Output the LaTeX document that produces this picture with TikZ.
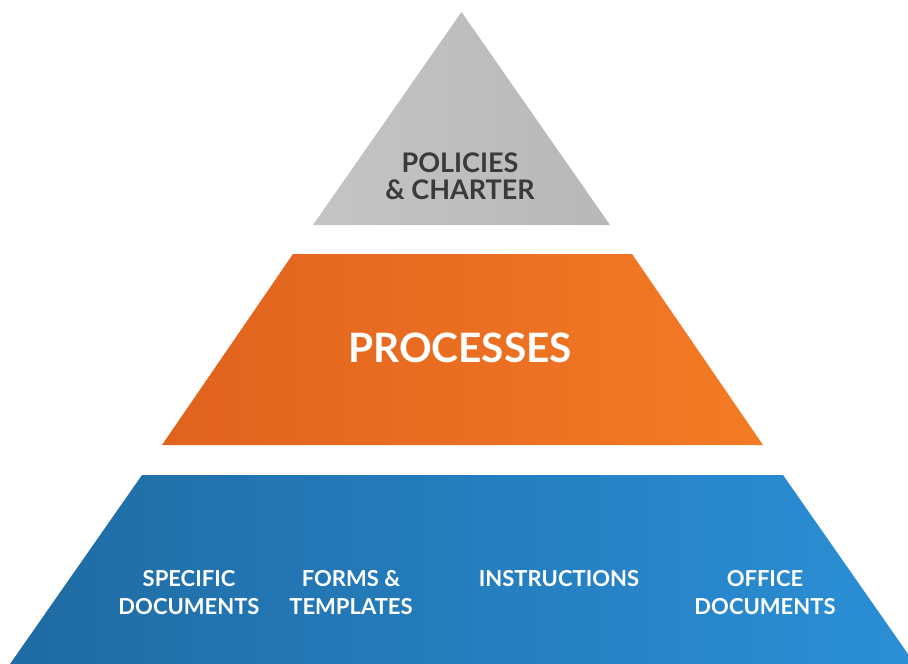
\documentclass[tikz,border=0pt]{standalone}
\usepackage{fontspec}
\setmainfont{Lato}
\definecolor{greyA}{HTML}{C4C4C4}
\definecolor{greyB}{HTML}{B8B8B8}
\definecolor{orA}{HTML}{E0621E}
\definecolor{orB}{HTML}{F47B25}
\definecolor{blA}{HTML}{1F6BA3}
\definecolor{blB}{HTML}{2B8FD6}
\definecolor{txtgrey}{HTML}{3A3A3A}
\tikzset{
  tiertext/.style={font=\bfseries, align=center, inner sep=0pt},
  lowtext/.style={tiertext, font=\bfseries\fontsize{22}{28}\selectfont, text=white, anchor=base},
}
\begin{document}
\begin{tikzpicture}[x=1pt,y=-1pt]
\useasboundingbox (0,0) rectangle (908,664);
\fill[white] (0,0) rectangle (908,664);
% top triangle
\shade[left color=greyA, right color=greyB] (461.5,12) -- (610,225) -- (313,225) -- cycle;
% middle trapezoid
\shade[left color=orA, right color=orB] (293,254) -- (632,254) -- (763,445) -- (162,445) -- cycle;
% bottom trapezoid
\begin{scope}
\clip (0,0) rectangle (908,664);
\shade[left color=blA, right color=blB] (142,475) -- (783,475) -- (915,664) -- (10,664) -- cycle;
\end{scope}
% texts
\node[tiertext, text=txtgrey, font=\bfseries\fontsize{27}{27}\selectfont, anchor=base] (pol) at (460,199) {POLICIES\\\& CHARTER};
\node[tiertext, text=white, font=\bfseries\fontsize{40.5}{42}\selectfont, anchor=base] (proc) at (460,362) {PROCESSES};
\node[lowtext] (spec) at (189,614) {SPECIFIC\\DOCUMENTS};
\node[lowtext] (forms) at (351,614) {FORMS \&\\TEMPLATES};
\node[lowtext] (instr) at (559,586) {INSTRUCTIONS};
\node[lowtext] (office) at (765,614) {OFFICE\\DOCUMENTS};
\end{tikzpicture}
\end{document}
